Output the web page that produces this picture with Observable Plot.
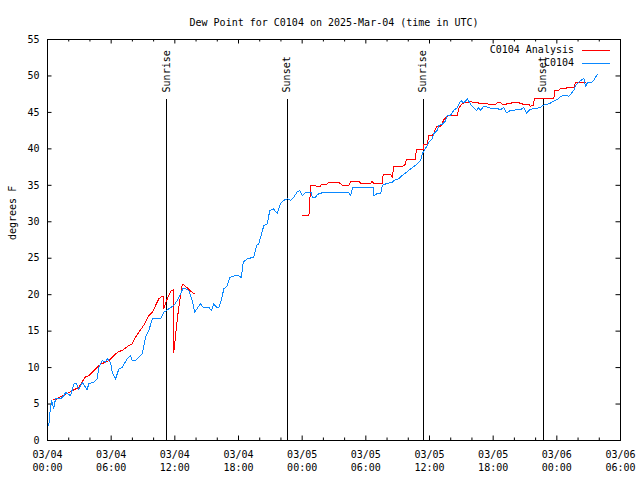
<!DOCTYPE html>
<html>
<head>
<meta charset="utf-8">
<script src="https://cdn.jsdelivr.net/npm/d3@7"></script>
<script src="https://cdn.jsdelivr.net/npm/@observablehq/plot@0.6"></script>
<style>
  html, body { margin: 0; padding: 0; background: white; }
  #chart svg { display: block; }
</style>
</head>
<body>
<div id="chart"></div>
<script>
// ---- data (hours since 2025-03-04 00:00 UTC, degrees F) ----
const titleText = "Dew Point for C0104 on 2025-Mar-04 (time in UTC)";
const yLabelText = "degrees F";

const obsHour = [0.12,0.19,0.38,0.59,0.75,1.23,1.54,1.70,2.17,2.48,2.73,2.95,3.27,3.74,3.89,4.36,4.68,4.84,5.16,5.47,5.63,5.94,6.10,6.41,6.72,7.04,7.51,7.82,7.98,8.29,8.61,8.93,9.24,9.55,9.87,10.65,10.96,11.43,11.90,12.22,12.54,12.75,13.01,13.32,13.64,13.88,14.17,14.42,14.67,15.20,15.46,15.67,15.93,16.15,16.37,16.62,16.94,17.18,17.72,18.03,18.26,18.44,18.82,19.44,19.70,19.91,20.39,20.71,20.95,21.27,21.65,21.96,22.27,22.59,22.90,23.21,23.53,23.78,24.01,24.32,24.85,24.95,25.26,25.42,25.89,28.40,28.56,28.77,30.70,30.75,31.07,31.39,31.55,31.70,32.49,32.64,33.11,33.43,33.74,34.05,34.37,34.68,35.16,35.32,35.79,35.94,36.26,36.41,36.73,36.88,37.20,37.51,37.67,37.98,38.29,38.61,38.86,39.02,39.18,39.40,39.56,39.93,40.18,40.43,40.65,40.81,41.06,41.28,41.50,41.91,42.38,42.70,43.01,43.26,43.64,44.58,44.89,45.15,45.36,45.78,46.47,46.63,47.10,47.41,47.72,48.19,48.35,48.82,49.13,49.36,49.60,49.76,50.08,50.40,50.55,50.71,50.87,51.34,51.49,51.81];
const obsDew = [2.0,3.4,5.45,4.35,5.7,5.7,6.14,6.6,6.14,7.75,7.8,6.96,7.97,6.96,7.8,7.97,8.48,10.03,10.95,10.71,11.22,10.71,9.34,8.43,9.81,10.03,11.18,11.63,10.95,10.95,11.4,11.91,14.15,15.07,16.68,16.68,17.58,18.05,18.5,19.19,20.11,20.8,20.8,20.56,19.19,17.58,18.27,18.74,18.27,18.27,17.82,18.74,18.27,18.27,19.19,20.8,21.25,22.39,22.62,22.62,22.31,24.45,24.92,25.14,26.74,26.98,29.49,29.73,31.55,31.79,31.18,32.47,32.93,33.16,32.93,33.38,34.07,34.3,33.61,33.98,33.98,33.38,33.38,33.75,33.98,33.98,33.61,34.67,34.67,33.61,33.85,33.85,34.99,35.12,35.44,35.67,35.91,36.36,36.68,37.05,37.42,37.73,38.42,39.34,40.48,40.93,41.4,42.09,42.54,43.23,43.37,43.82,44.6,44.6,45.29,45.66,46.43,46.57,46.29,46.57,46.9,45.98,45.66,45.29,45.66,45.29,45.74,45.84,45.66,45.52,45.52,45.38,45.66,44.92,45.29,45.38,45.66,44.84,45.29,45.52,45.66,45.98,46.11,46.29,46.57,46.9,47.21,47.35,47.21,47.58,48.04,48.72,49.18,49.51,49.64,48.58,49.04,49.18,49.41,50.23];

// analysis series; a null marks the gap between the two runs
const anaHour = [0.54,0.91,1.07,1.39,1.70,2.01,2.33,2.64,2.95,3.18,3.58,3.89,4.21,4.52,4.84,5.16,5.47,5.78,6.10,6.41,6.72,7.04,7.35,7.66,7.98,8.29,8.61,8.93,9.24,9.55,9.87,10.18,10.49,10.72,10.90,10.96,11.28,11.66,11.90,11.90,12.22,12.37,12.54,12.70,12.85,13.17,13.48,13.85,
  19.0,
  24.06,24.63,24.69,24.79,25.26,25.35,25.73,25.80,26.30,26.42,26.67,27.46,27.62,27.78,28.40,28.62,29.34,29.50,29.75,30.44,30.60,30.75,31.55,31.64,32.33,32.49,32.64,33.43,33.74,33.81,34.68,34.75,35.41,35.47,35.79,35.94,36.26,36.41,36.66,36.97,37.11,37.35,37.73,38.61,38.77,38.93,39.09,39.40,39.80,39.87,40.15,40.56,40.65,41.44,41.59,42.22,42.38,42.70,42.86,43.17,43.33,43.64,43.80,44.42,44.58,44.89,45.36,45.52,45.78,45.90,47.72,47.79,48.19,48.35,48.82,48.98,49.60,49.76,50.71];
const anaDew = [5.69,5.69,5.91,6.14,6.37,6.59,6.83,7.06,7.28,7.83,8.75,8.89,9.34,9.81,10.26,10.58,10.71,10.95,11.4,11.87,12.23,12.32,12.69,13.01,13.24,14.15,14.84,15.52,16.21,17.13,17.58,18.5,19.42,19.74,19.74,18.13,19.42,20.56,20.66,12.09,16.44,18.27,19.88,21.35,21.35,20.93,20.47,20.11,
  null,
  30.87,30.87,31.79,34.99,34.99,34.85,34.85,35.12,35.12,35.3,35.4,35.4,35.22,34.99,34.99,35.58,35.58,35.3,35.22,35.22,35.54,35.22,35.22,36.5,36.5,36.04,37.6,37.6,37.87,38.52,38.52,39.89,39.89,40.62,40.62,41.85,41.85,42.17,43.0,43.0,43.23,44.01,44.51,44.51,45.52,45.98,46.21,46.35,46.35,46.52,46.35,46.35,46.21,46.21,46.07,46.07,46.35,46.35,46.07,46.07,46.21,46.21,46.35,46.35,46.21,46.11,46.11,45.84,45.98,46.9,46.9,48.04,48.04,48.27,48.27,48.41,48.41,49.04,49.04];

const eventHour = [11.24, 22.59, 35.41, 46.72];
const eventLabel = ["Sunrise", "Sunset", "Sunrise", "Sunset"];

const xTickHour = [0, 6, 12, 18, 24, 30, 36, 42, 48, 54];
const xTickLabel = ["03/04\n00:00","03/04\n06:00","03/04\n12:00","03/04\n18:00","03/05\n00:00","03/05\n06:00","03/05\n12:00","03/05\n18:00","03/06\n00:00","03/06\n06:00"];
const xMinorHour = d3.range(0, 55, 2).filter(h => h % 6 !== 0);
const yTicks = [0, 5, 10, 15, 20, 25, 30, 35, 40, 45, 50, 55];

const seriesName = ["C0104 Analysis", "C0104"];
const seriesColor = ["#ff0000", "#0a88ff"];

// ---- build ----
const obs = obsHour.map((h, i) => ({h, v: obsDew[i]}));
const ana = anaHour.map((h, i) => ({h, v: anaDew[i]}));
const events = eventHour.map((h, i) => ({h, label: eventLabel[i]}));

const W = 640, H = 480, mL = 47, mR = 20, mT = 39, mB = 40;
const frameW = W - mL - mR, frameH = H - mT - mB;
const yMax = 55;
const font = "'DejaVu Sans Mono', 'Liberation Mono', monospace";

function legend(index, scales, values, dims) {
  const g = d3.create("svg:g").attr("font-family", font).attr("font-size", 10);
  const xr = dims.width - dims.marginRight;
  seriesName.forEach((name, i) => {
    const y = dims.marginTop + 10.5 + i * 13;
    g.append("text").attr("x", xr - 46).attr("y", y).attr("dy", "0.35em")
      .attr("text-anchor", "end").attr("fill", "black").text(name);
    g.append("line").attr("x1", xr - 38).attr("x2", xr - 10).attr("y1", y + 0.5).attr("y2", y + 0.5)
      .attr("stroke", seriesColor[i]).attr("stroke-width", 1).attr("shape-rendering", "crispEdges");
  });
  return g.node();
}

const chart = Plot.plot({
  width: W, height: H,
  marginLeft: mL, marginRight: mR, marginTop: mT, marginBottom: mB,
  style: {fontFamily: font, fontSize: "10px", background: "white", color: "black"},
  x: {domain: [0, 54]},
  y: {domain: [0, yMax]},
  marks: [
    // axes labels
    Plot.axisX({ticks: xTickHour, tickSize: 0, tickPadding: 8, lineHeight: 1.3,
      tickFormat: d => xTickLabel[xTickHour.indexOf(d)], label: null}),
    Plot.axisY({ticks: yTicks, tickSize: 0, tickPadding: 8, label: null}),
    // inward ticks on all four sides
    Plot.ruleX(xTickHour, {x: d => d, insetTop: frameH - 4.5}),
    Plot.ruleX(xTickHour, {x: d => d, insetBottom: frameH - 4.5}),
    Plot.ruleX(xMinorHour, {x: d => d, insetTop: frameH - 2.5}),
    Plot.ruleX(xMinorHour, {x: d => d, insetBottom: frameH - 2.5}),
    Plot.ruleY(yTicks, {y: d => d, insetRight: frameW - 4.5}),
    Plot.ruleY(yTicks, {y: d => d, insetLeft: frameW - 4.5}),
    // sunrise / sunset
    Plot.ruleX(events, {x: "h", y1: 0, y2: yMax * 0.85, stroke: "black", strokeWidth: 1, shapeRendering: "crispEdges"}),
    Plot.text(events, {x: "h", y: yMax * 0.868, text: "label", rotate: -90, textAnchor: "start", fill: "black"}),
    // series
    Plot.line(ana, {x: "h", y: "v", stroke: seriesColor[0], strokeWidth: 1, shapeRendering: "crispEdges"}),
    Plot.line(obs, {x: "h", y: "v", stroke: seriesColor[1], strokeWidth: 1, shapeRendering: "crispEdges"}),
    Plot.frame({stroke: "black", shapeRendering: "crispEdges"}),
    // title and y label
    Plot.text([titleText], {frameAnchor: "top", dy: -21, text: d => d, fill: "black"}),
    Plot.text([yLabelText], {frameAnchor: "left", dx: -35, rotate: -90, text: d => d, fill: "black"}),
    legend
  ]
});
document.getElementById("chart").append(chart);
</script>
</body>
</html>
